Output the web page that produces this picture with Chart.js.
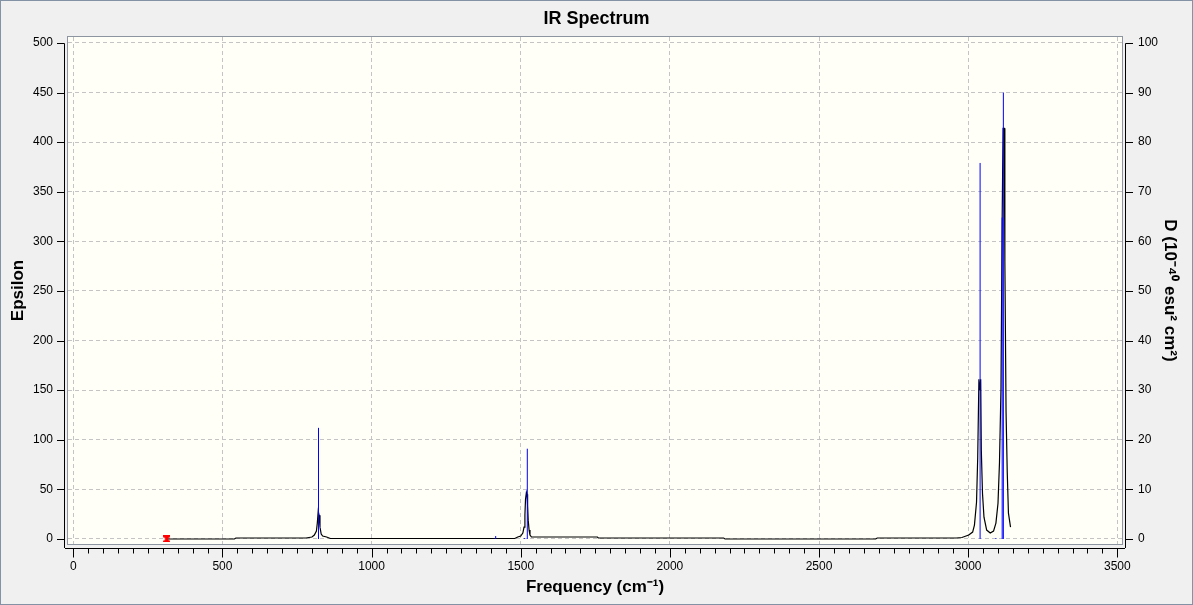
<!DOCTYPE html>
<html>
<head>
<meta charset="utf-8">
<title>IR Spectrum</title>
<script src="https://cdn.jsdelivr.net/npm/chart.js@4.4.1/dist/chart.umd.min.js"></script>
<style>
  html, body { margin: 0; padding: 0; background: #f0f0f0; }
  #wrap { width: 1193px; height: 605px; }
</style>
</head>
<body>
<div id="wrap"><canvas id="irChart" width="1193" height="605"></canvas></div>
<script>
// ---- data ----
const freqTicks = [0, 500, 1000, 1500, 2000, 2500, 3000, 3500];
const epsTicks = [0, 50, 100, 150, 200, 250, 300, 350, 400, 450, 500];
const dTicks = [0, 10, 20, 30, 40, 50, 60, 70, 80, 90, 100];

// broadened spectrum (Epsilon)
const curveFreq = [313, 540, 545, 780, 800, 808, 815, 818, 821, 824, 827, 831, 836, 849, 862,
  1480, 1490, 1500, 1507, 1511, 1514, 1516, 1519, 1521, 1523, 1525, 1528, 1531, 1536,
  1757, 1760, 2180, 2185, 2690, 2695, 2960, 2979, 3002, 3015, 3021, 3028, 3032, 3036,
  3039, 3042, 3044, 3048, 3053, 3062, 3074, 3085, 3093, 3100, 3105, 3110, 3114, 3117,
  3121, 3123, 3127, 3131, 3135, 3142];
const curveEps = [0, 0, 1, 1, 2, 4, 8, 16, 28, 24, 12, 5, 3, 2, 0.5,
  0.5, 2, 3, 6, 12, 24, 40, 47, 45, 34, 19, 9, 4, 2,
  2, 1, 1, 0, 0, 1, 1, 1.5, 4, 7, 14, 37, 82, 161,
  150, 161, 90, 46, 22, 9, 6, 8, 16, 36, 77, 152, 324, 414,
  414, 280, 128, 67, 26, 12];

// stick spectrum (D, right axis)
const stickFreq = [822, 1416, 1512, 1522, 3040, 3093, 3114, 3118];
const stickD = [22.4, 0.6, 0.2, 18.2, 75.8, 0.2, 64.8, 90];

// selection marker
const markerFreq = [313];
const markerEps = [0];

// ---- look ----
const FONT = "'Liberation Sans', Arial, sans-serif";
const MINOR_STEP = 50;

const curveData = curveFreq.map((f, i) => ({ x: f, y: curveEps[i] }));
const stickData = [];
stickFreq.forEach((f, i) => {
  stickData.push({ x: f, y: 0 }, { x: f, y: stickD[i] }, { x: f, y: null });
});
const markerData = markerFreq.map((f, i) => ({ x: f, y: markerEps[i] }));

// little red hourglass used by the marker
const markerImg = document.createElement("canvas");
markerImg.width = 7;
markerImg.height = 7;
(function () {
  const c = markerImg.getContext("2d");
  c.fillStyle = "#ff0000";
  c.beginPath();
  c.moveTo(0, 0); c.lineTo(7, 0); c.lineTo(7, 1.5); c.lineTo(5, 3); c.lineTo(5, 4);
  c.lineTo(7, 5.5); c.lineTo(7, 7); c.lineTo(0, 7); c.lineTo(0, 5.5); c.lineTo(2, 4);
  c.lineTo(2, 3); c.lineTo(0, 1.5);
  c.closePath();
  c.fill();
})();

// background, plot frame, offset axis lines and tick marks
const axisFrame = {
  id: "axisFrame",
  beforeDraw(chart) {
    const { ctx, chartArea: a, width, height } = chart;
    ctx.save();
    ctx.fillStyle = "#f0f0f0";
    ctx.fillRect(0, 0, width, height);
    ctx.fillStyle = "#fffff7";
    ctx.fillRect(a.left, a.top, a.right - a.left, a.bottom - a.top);
    ctx.restore();
  },
  afterDraw(chart) {
    const { ctx, chartArea: a, scales, width, height } = chart;
    const sx = scales.x, sy = scales.y, sy2 = scales.y2;
    const L = Math.round(a.left), R = Math.round(a.right);
    const T = Math.round(a.top), B = Math.round(a.bottom);
    ctx.save();

    // window border
    ctx.strokeStyle = "#8393a5";
    ctx.lineWidth = 1;
    ctx.strokeRect(0.5, 0.5, width - 1, height - 1);

    // plot frame
    ctx.strokeStyle = "#8c95a0";
    ctx.strokeRect(L - 0.5, T - 0.5, R - L + 1, B - T + 1);

    ctx.strokeStyle = "#000";
    ctx.beginPath();
    // left axis
    const lx = L - 3.5;
    ctx.moveTo(lx, Math.round(sy.getPixelForValue(epsTicks[epsTicks.length - 1])) + 0.5);
    ctx.lineTo(lx, B + 4);
    epsTicks.forEach(v => {
      const p = Math.round(sy.getPixelForValue(v)) + 0.5;
      ctx.moveTo(L - 11, p);
      ctx.lineTo(lx, p);
    });
    // right axis
    const rx = R + 3.5;
    ctx.moveTo(rx, Math.round(sy2.getPixelForValue(dTicks[dTicks.length - 1])) + 0.5);
    ctx.lineTo(rx, B + 4);
    dTicks.forEach(v => {
      const p = Math.round(sy2.getPixelForValue(v)) + 0.5;
      ctx.moveTo(rx, p);
      ctx.lineTo(R + 11, p);
    });
    // bottom axis
    const by = B + 4.5;
    ctx.moveTo(L - 3, by);
    ctx.lineTo(R + 3, by);
    const f0 = freqTicks[0], f1 = freqTicks[freqTicks.length - 1];
    for (let f = f0; f <= f1; f += MINOR_STEP) {
      const p = Math.round(sx.getPixelForValue(f)) + 0.5;
      const major = freqTicks.includes(f);
      ctx.moveTo(p, by);
      ctx.lineTo(p, by + (major ? 9 : 5));
    }
    ctx.stroke();
    ctx.restore();
  }
};

const gridStyle = {
  color: "#c4c4c4",
  lineWidth: 1,
  drawTicks: false
};
const tickFont = { family: FONT, size: 12 };
const titleFont = { family: FONT, size: 17, weight: "bold" };
const plainLabel = v => String(v);

new Chart(document.getElementById("irChart"), {
  type: "scatter",
  data: {
    datasets: [
      {
        data: markerData,
        pointStyle: markerImg,
        pointRadius: 4,
        showLine: false,
        order: 0
      },
      {
        data: stickData,
        yAxisID: "y2",
        showLine: true,
        spanGaps: false,
        borderColor: "#0000ff",
        borderWidth: 1,
        pointRadius: 0,
        order: 1
      },
      {
        data: curveData,
        yAxisID: "y",
        showLine: true,
        borderColor: "#000000",
        borderWidth: 1.2,
        pointRadius: 0,
        tension: 0,
        order: 2
      }
    ]
  },
  options: {
    responsive: false,
    animation: false,
    events: [],
    layout: { padding: 0 },
    plugins: {
      legend: { display: false },
      tooltip: { enabled: false },
      title: {
        display: true,
        text: "IR Spectrum",
        color: "#000",
        font: { family: FONT, size: 18, weight: "bold" },
        padding: { top: 8, bottom: 7.4 }
      }
    },
    scales: {
      x: {
        type: "linear",
        position: "bottom",
        min: -17.8,
        max: 3515.7,
        afterBuildTicks: s => { s.ticks = freqTicks.map(v => ({ value: v })); },
        afterFit: s => { s.height = 61; },
        grid: gridStyle,
        border: { display: false, dash: [4, 3] },
        ticks: { color: "#000", font: tickFont, padding: 15, maxRotation: 0, callback: plainLabel },
        title: {
          display: true,
          text: "Frequency (cm\u207B\u00B9)",
          color: "#000",
          font: titleFont,
          padding: { top: 0, bottom: 7 }
        }
      },
      y: {
        type: "linear",
        position: "left",
        min: -5.04,
        max: 505.95,
        afterBuildTicks: s => { s.ticks = epsTicks.map(v => ({ value: v })); },
        afterFit: s => { s.width = 68; },
        grid: gridStyle,
        border: { display: false, dash: [4, 3] },
        ticks: { color: "#000", font: tickFont, padding: 15, callback: plainLabel },
        title: {
          display: true,
          text: "Epsilon",
          color: "#000",
          font: titleFont,
          padding: { top: 8, bottom: 0 }
        }
      },
      y2: {
        type: "linear",
        position: "right",
        min: -1.008,
        max: 101.19,
        afterBuildTicks: s => { s.ticks = dTicks.map(v => ({ value: v })); },
        afterFit: s => { s.width = 71; },
        grid: { drawOnChartArea: false, drawTicks: false },
        border: { display: false },
        ticks: { color: "#000", font: tickFont, padding: 16, callback: plainLabel },
        title: {
          display: true,
          text: "D (10\u207B\u2074\u2070 esu\u00B2 cm\u00B2)",
          color: "#000",
          font: titleFont,
          padding: { top: 13, bottom: 0 }
        }
      }
    }
  },
  plugins: [axisFrame]
});
</script>
</body>
</html>
